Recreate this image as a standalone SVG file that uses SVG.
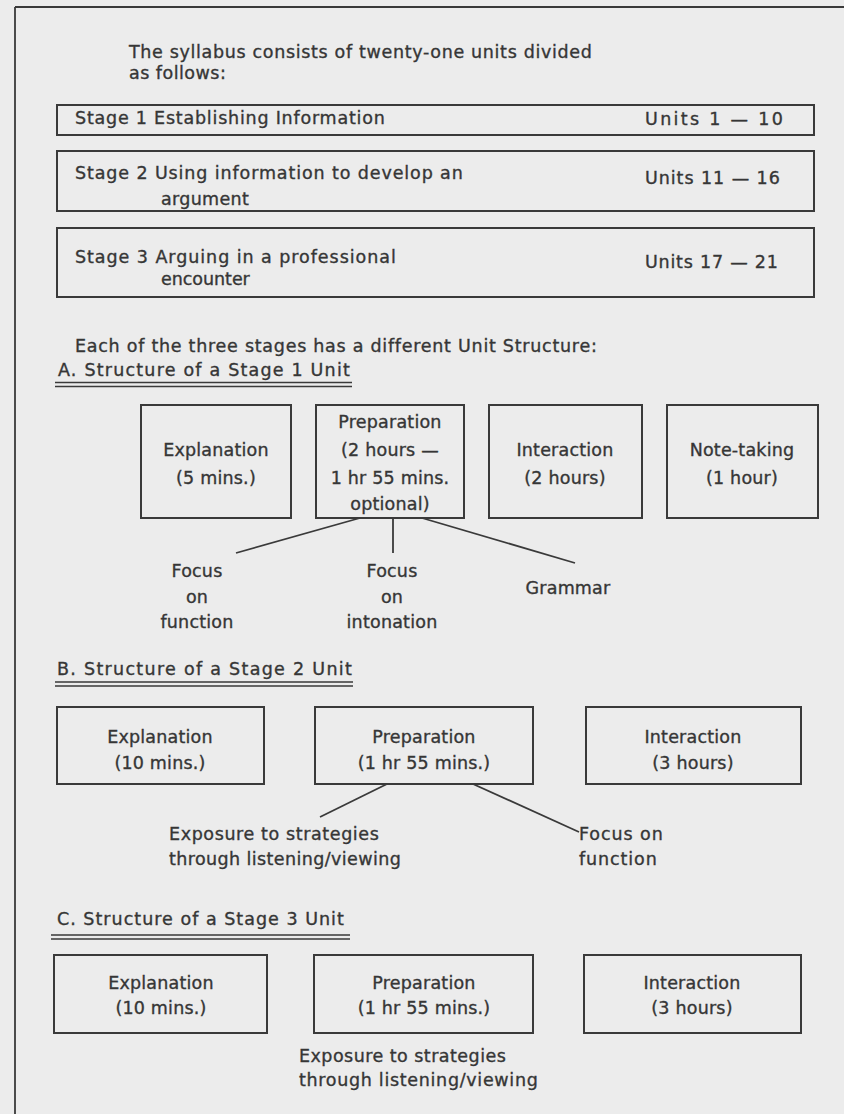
<svg xmlns="http://www.w3.org/2000/svg" width="844" height="1114" viewBox="0 0 844 1114">
<style>
text{font-family:"DejaVu Sans","Liberation Sans",Arial,sans-serif;font-size:17.5px;fill:#363636;stroke:#363636;stroke-width:0.35px;letter-spacing:0.2px}
.c{text-anchor:middle}
.box{fill:none;stroke:#3a3a3a;stroke-width:2}
.ln{stroke:#3a3a3a;stroke-width:1.8;fill:none}
.ul{stroke:#3a3a3a;stroke-width:1.6}
</style>
<rect x="0" y="0" width="844" height="1114" fill="#ececec"/>
<g id="frame">
<line class="ln" x1="15" y1="7" x2="844" y2="7"/>
<line class="ln" x1="15" y1="7" x2="15" y2="1114"/>
</g>
<g id="intro">
<text x="129" y="58" textLength="463">The syllabus consists of twenty-one units divided</text>
<text x="129" y="79" textLength="97">as follows:</text>
</g>
<g id="stage1">
<rect class="box" x="57" y="105" width="757" height="30"/>
<text x="75" y="124" textLength="310">Stage 1 Establishing Information</text>
<text x="645" y="125" textLength="138">Units  1 — 10</text>
</g>
<g id="stage2">
<rect class="box" x="57" y="151" width="757" height="60"/>
<text x="75" y="179" textLength="388">Stage 2 Using information to develop an</text>
<text x="161" y="205" textLength="88">argument</text>
<text x="645" y="184" textLength="135">Units 11 — 16</text>
</g>
<g id="stage3">
<rect class="box" x="57" y="228" width="757" height="69"/>
<text x="75" y="263" textLength="321">Stage 3  Arguing in a professional</text>
<text x="161" y="285" textLength="89">encounter</text>
<text x="645" y="268" textLength="133">Units 17 — 21</text>
</g>
<g id="each">
<text x="75" y="352" textLength="522">Each of the three stages has a different Unit Structure:</text>
</g>
<g id="headA">
<text x="58" y="376" textLength="292">A. Structure of a Stage 1 Unit</text>
<line class="ul" x1="55" y1="382.5" x2="352" y2="382.5"/>
<line class="ul" x1="55" y1="386.5" x2="352" y2="386.5"/>
</g>
<g id="a-explanation">
<rect class="box" x="141" y="405" width="150" height="113"/>
<text class="c" x="216" y="456">Explanation</text>
<text class="c" x="216" y="484">(5 mins.)</text>
</g>
<g id="a-preparation">
<rect class="box" x="316" y="405" width="148" height="113"/>
<text class="c" x="390" y="428">Preparation</text>
<text class="c" x="390" y="456">(2 hours —</text>
<text class="c" x="390" y="484">1 hr  55 mins.</text>
<text class="c" x="390" y="510">optional)</text>
</g>
<g id="a-interaction">
<rect class="box" x="489" y="405" width="153" height="113"/>
<text class="c" x="565" y="456">Interaction</text>
<text class="c" x="565" y="484">(2 hours)</text>
</g>
<g id="a-notetaking">
<rect class="box" x="667" y="405" width="151" height="113"/>
<text class="c" x="742" y="456">Note-taking</text>
<text class="c" x="742" y="484">(1 hour)</text>
</g>
<g id="a-focus-function">
<text class="c" x="197" y="577">Focus</text>
<text class="c" x="197" y="603">on</text>
<text class="c" x="197" y="628">function</text>
</g>
<g id="a-focus-intonation">
<text class="c" x="392" y="577">Focus</text>
<text class="c" x="392" y="603">on</text>
<text class="c" x="392" y="628">intonation</text>
</g>
<g id="a-grammar">
<text class="c" x="568" y="594">Grammar</text>
</g>
<g id="headB">
<text x="57" y="675" textLength="295">B. Structure of a Stage 2 Unit</text>
<line class="ul" x1="55" y1="682" x2="353" y2="682"/>
<line class="ul" x1="55" y1="686" x2="353" y2="686"/>
</g>
<g id="b-explanation">
<rect class="box" x="57" y="707" width="207" height="77"/>
<text class="c" x="160" y="743">Explanation</text>
<text class="c" x="160" y="769">(10 mins.)</text>
</g>
<g id="b-preparation">
<rect class="box" x="315" y="707" width="218" height="77"/>
<text class="c" x="424" y="743">Preparation</text>
<text class="c" x="424" y="769">(1 hr  55 mins.)</text>
</g>
<g id="b-interaction">
<rect class="box" x="586" y="707" width="215" height="77"/>
<text class="c" x="693" y="743">Interaction</text>
<text class="c" x="693" y="769">(3 hours)</text>
</g>
<g id="b-exposure">
<text x="169" y="840" textLength="210">Exposure to strategies</text>
<text x="169" y="865" textLength="232">through listening/viewing</text>
</g>
<g id="b-focus">
<text x="579" y="840" textLength="84">Focus on</text>
<text x="579" y="865" textLength="78">function</text>
</g>
<g id="headC">
<text x="57" y="925" textLength="287">C. Structure of a Stage 3 Unit</text>
<line class="ul" x1="51" y1="935" x2="350" y2="935"/>
<line class="ul" x1="51" y1="939" x2="350" y2="939"/>
</g>
<g id="c-explanation">
<rect class="box" x="54" y="955" width="213" height="78"/>
<text class="c" x="161" y="989">Explanation</text>
<text class="c" x="161" y="1014">(10 mins.)</text>
</g>
<g id="c-preparation">
<rect class="box" x="314" y="955" width="219" height="78"/>
<text class="c" x="424" y="989">Preparation</text>
<text class="c" x="424" y="1014">(1 hr  55 mins.)</text>
</g>
<g id="c-interaction">
<rect class="box" x="584" y="955" width="217" height="78"/>
<text class="c" x="692" y="989">Interaction</text>
<text class="c" x="692" y="1014">(3 hours)</text>
</g>
<g id="c-exposure">
<text x="299" y="1062" textLength="207">Exposure to strategies</text>
<text x="299" y="1086" textLength="239">through listening/viewing</text>
</g>
<g id="connectors">
<line class="ln" x1="360" y1="518" x2="236" y2="553"/>
<line class="ln" x1="393" y1="518" x2="393" y2="553"/>
<line class="ln" x1="422" y1="518" x2="575" y2="563"/>
<line class="ln" x1="387" y1="784" x2="320" y2="817"/>
<line class="ln" x1="473" y1="784" x2="579" y2="832"/>
</g>
</svg>
